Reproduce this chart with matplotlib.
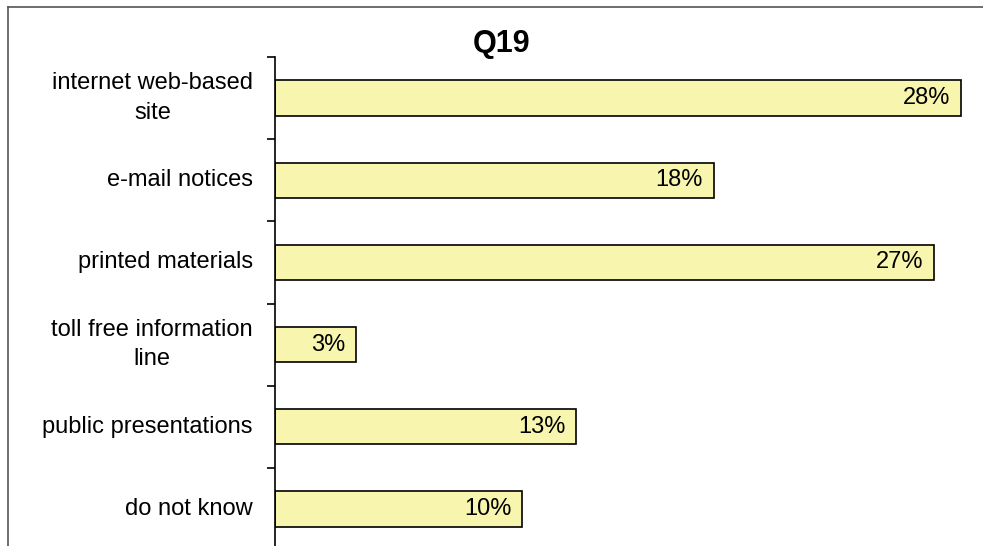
import matplotlib.pyplot as plt
from matplotlib.lines import Line2D

# data
categories = ["internet web-based\nsite", "e-mail notices", "printed materials",
              "toll free information\nline", "public presentations", "do not know"]
values = [28.0, 17.9, 26.9, 3.3, 12.3, 10.1]
pct_labels = ["28%", "18%", "27%", "3%", "13%", "10%"]

plt.rcParams['font.family'] = ['Liberation Sans', 'DejaVu Sans']

W, H = 983, 546
fig = plt.figure(figsize=(W / 100, H / 100), dpi=100)

# grey frame round the chart (cut off at right and bottom)
fig.add_artist(Line2D([8 / W, 1.0], [1 - 7 / H, 1 - 7 / H], color='#555555', lw=1.2))
fig.add_artist(Line2D([8 / W, 8 / W], [0.0, 1 - 7 / H], color='#555555', lw=1.2))

left, top, bottom = 275, 57, 550
ax = fig.add_axes([left / W, (H - bottom) / H, 735 / W, (bottom - top) / H])

n = len(categories)
centers = [i + 0.5 for i in range(n)]
ax.barh(centers, values, height=0.43, color='#F8F5AE', edgecolor='black', linewidth=1.2)

ax.set_xlim(0, 30)
ax.set_ylim(n, 0)

for spine in ['top', 'right', 'bottom']:
    ax.spines[spine].set_visible(False)
ax.spines['left'].set_linewidth(1.2)

ax.set_xticks([])
ax.set_yticks(range(n + 1))
ax.set_yticklabels([])
ax.tick_params(axis='y', length=6, width=1.2, direction='out')

for c, lab in zip(centers, categories):
    ax.annotate(lab, xy=(0, c), xycoords=('axes fraction', 'data'),
                xytext=(-22 * 0.72, 0), textcoords='offset points',
                ha='right', va='center', multialignment='center',
                fontsize=17, linespacing=1.45)

for c, v, lab in zip(centers, values, pct_labels):
    ax.annotate(lab, xy=(v, c), xytext=(-11 * 0.72, 0), textcoords='offset points',
                ha='right', va='center', fontsize=17)

fig.text(502 / W, 1 - 44 / H, "Q19", ha='center', va='center',
         fontsize=22, fontweight='bold')

fig.savefig('out.png', dpi=100)
